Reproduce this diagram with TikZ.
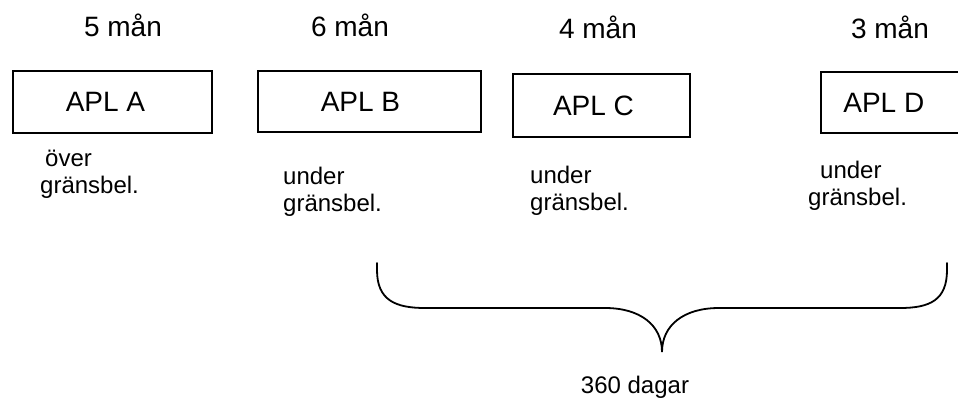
\documentclass[tikz,border=0pt]{standalone}
\usepackage{fontspec}
\setmainfont{Liberation Sans}
\begin{document}
\begin{tikzpicture}[x=1pt,y=-1pt,
  apl/.style={draw,line width=1.6pt,inner sep=0pt,font=\fontsize{28}{34}\selectfont},
  mon/.style={anchor=base,inner sep=0pt,font=\fontsize{28}{34}\selectfont},
  lim/.style={anchor=base west,inner sep=0pt,align=left,font=\fontsize{24}{27}\selectfont},
  brace/.style={line width=1.8pt,line cap=round}]
\useasboundingbox (0,0) rectangle (958,401);
% month labels
\node[mon] (mA) at (123,37) {5 mån};
\node[mon] (mB) at (350,37) {6 mån};
\node[mon] (mC) at (598,39) {4 mån};
\node[mon] (mD) at (890,39) {3 mån};
% boxes
\node[apl,minimum width=199pt,minimum height=62pt] (A) at (112.5,102) {APL A\hspace*{14pt}};
\node[apl,minimum width=223pt,minimum height=61pt] (B) at (369.5,101.5) {APL B\hspace*{18pt}};
\node[apl,minimum width=177pt,minimum height=63pt] (C) at (601.5,105.5) {APL C\hspace*{16pt}};
\node[apl,minimum width=140pt,minimum height=61pt,anchor=west] (D) at (820,102.5) {APL D\hspace*{14pt}};
% limits
\node[lim] (lA) at (40,193) {\hspace*{5pt}över\\gränsbel.};
\node[lim] (lB) at (283,211) {under\\gränsbel.};
\node[lim] (lC) at (530,210) {under\\gränsbel.};
\node[lim] (lD) at (808,205) {\hspace*{12pt}under\\gränsbel.};
% brace
\coordinate (bl) at (377,263);
\coordinate (br) at (947,263);
\coordinate (tip) at (662,352);
\draw[brace] (bl) -- (377,270) .. controls (377,300) and (395,308) .. (425,308)
  -- (605,308) .. controls (640,308) and (662,325) .. (tip)
  .. controls (662,325) and (684,308) .. (719,308)
  -- (900,308) .. controls (930,308) and (947,300) .. (947,270) -- (br);
\node[anchor=base,inner sep=0pt,font=\fontsize{24}{27}\selectfont] (days) at (635,393) {360 dagar};
\end{tikzpicture}
\end{document}
